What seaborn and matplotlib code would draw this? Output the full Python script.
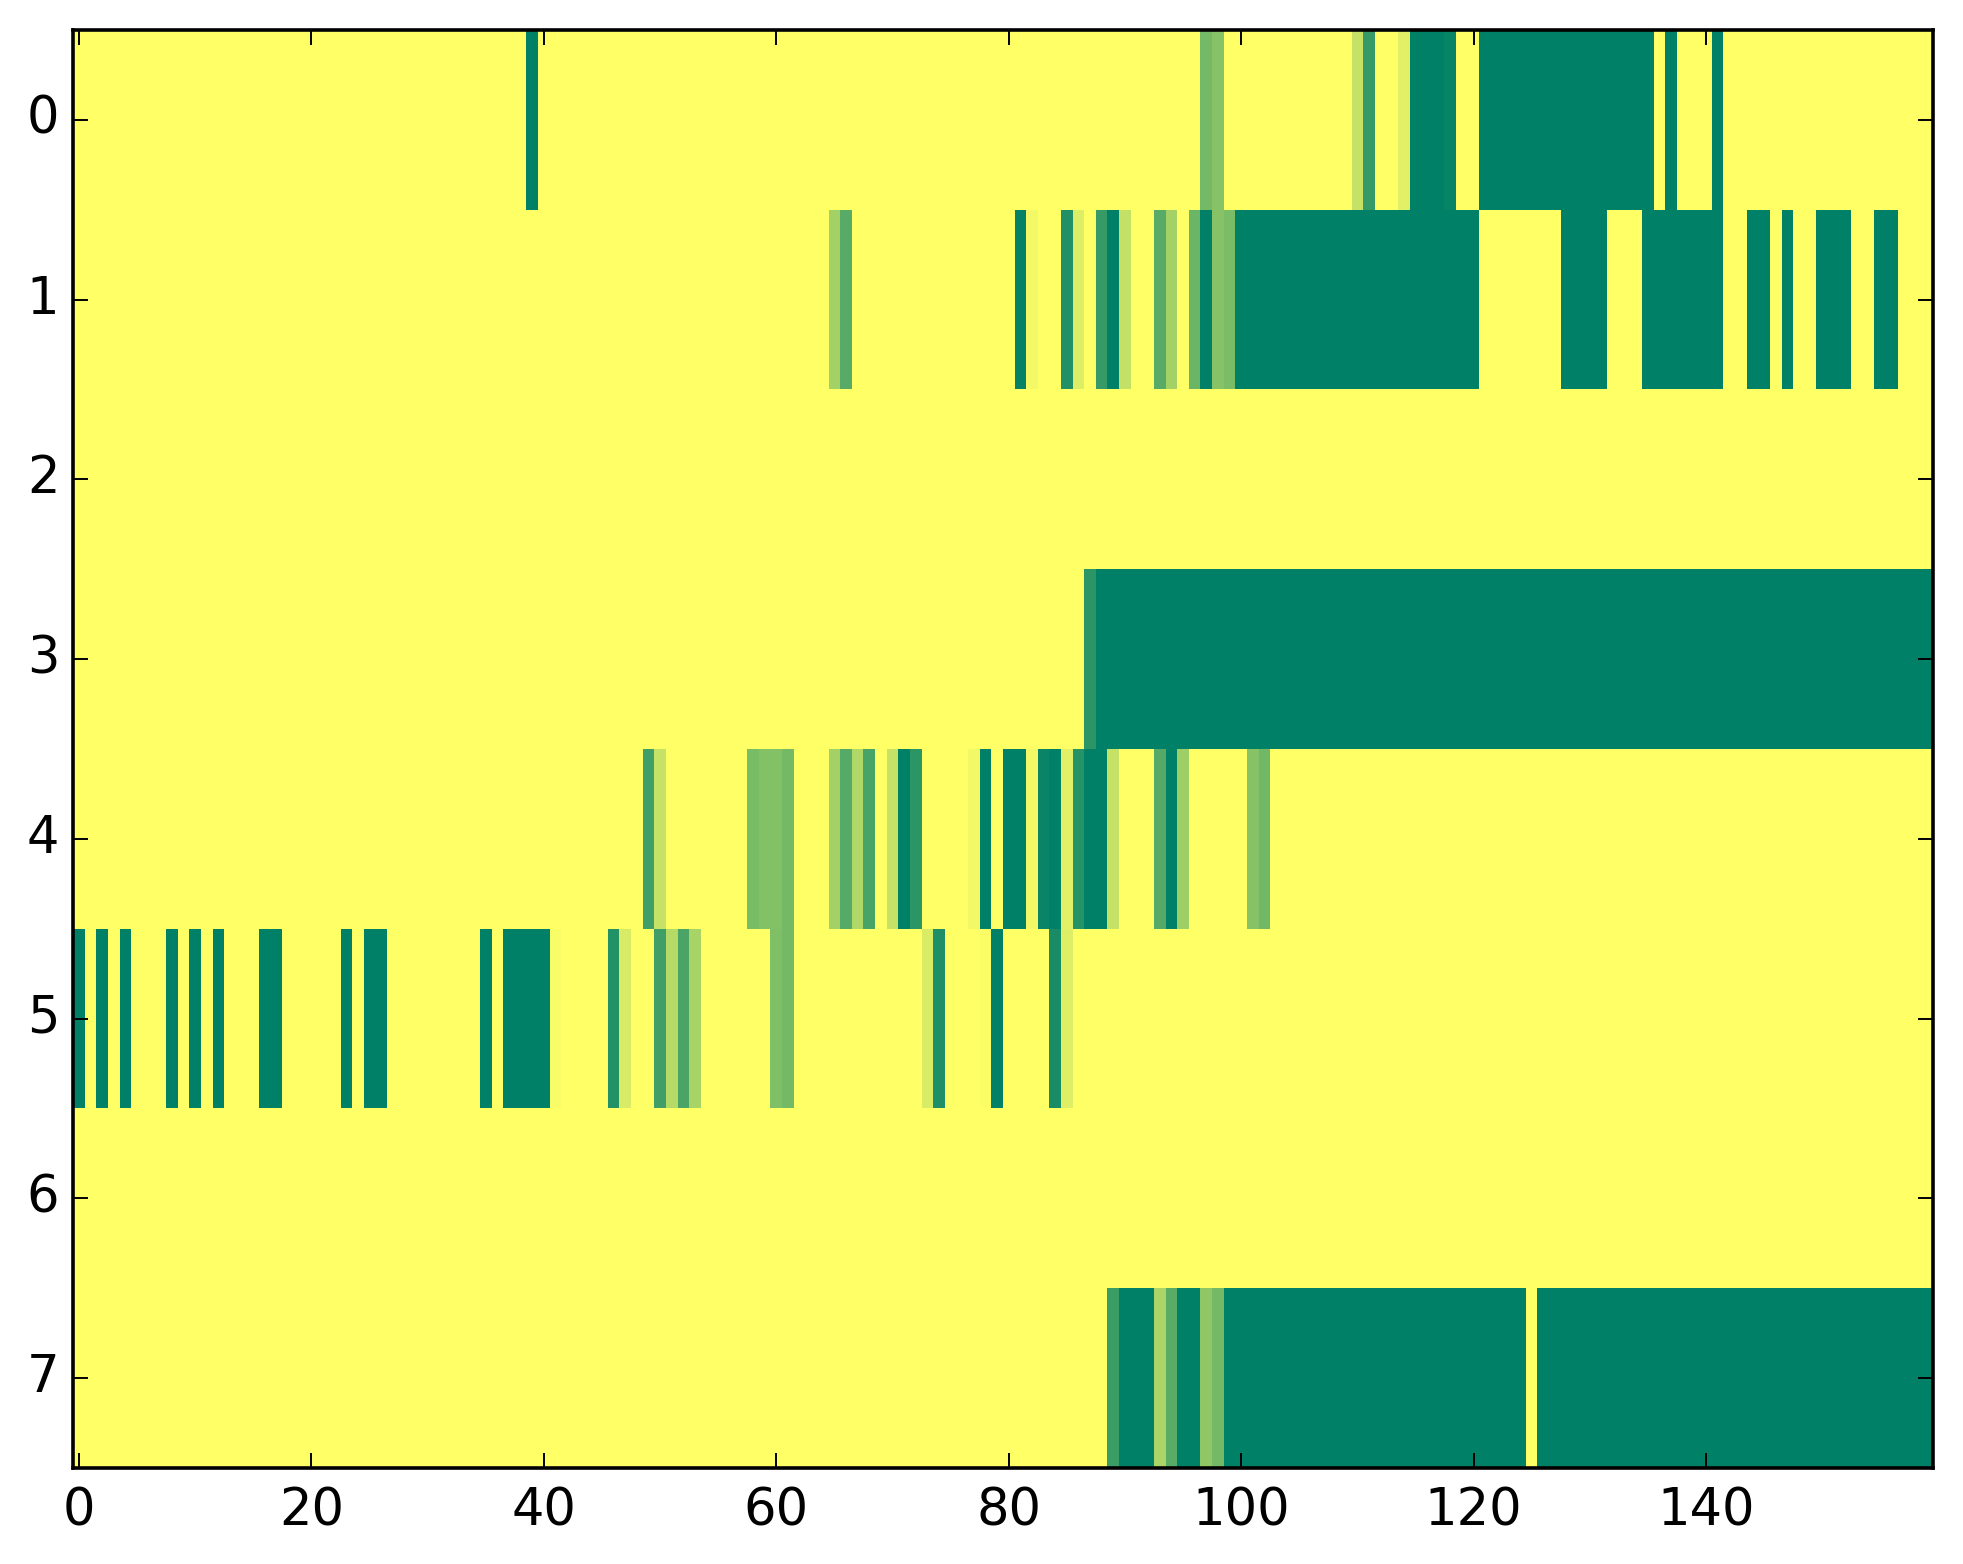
import numpy as np
import matplotlib
matplotlib.use("Agg")
import matplotlib.pyplot as plt
import seaborn as sns

# --- Data: 8 rows x 160 columns, value 0 (yellow) .. 1 (dark green) ---
# each row is a list of (first_col, last_col, value); every other cell is 0
N_ROWS = 8
N_COLS = 160

row_0 = [(39, 39, 1.0), (97, 97, 0.55), (98, 98, 0.47), (110, 110, 0.23), (111, 111, 0.79),
         (114, 114, 0.12), (115, 117, 1.0), (118, 118, 0.97), (121, 135, 1.0), (137, 137, 1.0),
         (141, 141, 1.0)]
row_1 = [(65, 65, 0.36), (66, 66, 0.66), (81, 81, 0.98), (82, 82, 0.05), (85, 85, 0.87),
         (86, 86, 0.14), (88, 88, 0.79), (89, 89, 1.0), (90, 90, 0.24), (93, 93, 0.66),
         (94, 94, 0.36), (96, 96, 0.58), (97, 97, 1.0), (98, 98, 0.47), (99, 99, 0.52),
         (100, 120, 1.0), (128, 131, 1.0), (135, 141, 1.0), (144, 145, 1.0), (147, 147, 1.0),
         (150, 152, 1.0), (155, 156, 1.0)]
row_2 = []
row_3 = [(87, 87, 0.83), (88, 159, 1.0)]
row_4 = [(49, 49, 0.75), (50, 50, 0.23), (58, 58, 0.53), (59, 60, 0.49), (61, 61, 0.55),
         (65, 65, 0.36), (66, 66, 0.67), (67, 67, 0.31), (68, 68, 0.72), (70, 70, 0.23),
         (71, 71, 1.0), (72, 72, 0.83), (77, 77, 0.05), (78, 78, 1.0), (80, 81, 1.0),
         (82, 82, 0.05), (83, 83, 0.96), (84, 84, 1.0), (85, 85, 0.12), (86, 86, 0.85),
         (87, 88, 1.0), (89, 89, 0.23), (93, 93, 0.67), (94, 94, 1.0), (95, 95, 0.38),
         (101, 101, 0.47), (102, 102, 0.56)]
row_5 = [(0, 0, 1.0), (2, 2, 1.0), (4, 4, 1.0), (8, 8, 1.0), (10, 10, 1.0), (12, 12, 1.0),
         (16, 17, 1.0), (23, 23, 1.0), (25, 26, 1.0), (35, 35, 1.0), (37, 40, 1.0),
         (41, 41, 0.03), (46, 46, 0.86), (47, 47, 0.16), (50, 50, 0.75), (51, 51, 0.29),
         (52, 52, 0.71), (53, 53, 0.34), (60, 60, 0.50), (61, 61, 0.55), (73, 73, 0.15),
         (74, 74, 0.88), (78, 78, 0.02), (79, 79, 1.0), (84, 84, 0.90), (85, 85, 0.13)]
row_6 = []
row_7 = [(89, 89, 0.77), (90, 92, 1.0), (93, 93, 0.33), (94, 94, 0.65), (95, 96, 1.0),
         (97, 97, 0.44), (98, 98, 0.55), (99, 124, 1.0), (126, 159, 1.0)]

ROWS = [row_0, row_1, row_2, row_3, row_4, row_5, row_6, row_7]
X_TICKS = [0, 20, 40, 60, 80, 100, 120, 140]
Y_TICKS = [0, 1, 2, 3, 4, 5, 6, 7]

# build the matrix from the segments
grid = np.zeros((N_ROWS, N_COLS))
for r, segs in enumerate(ROWS):
    for first, last, val in segs:
        grid[r, first:last + 1] = val

sns.set_style("ticks")
plt.rcParams['font.family'] = ['DejaVu Sans']

fig = plt.figure(figsize=(19.63, 15.64), dpi=100)
ax = fig.add_axes([0.0373, 0.0614, 0.9472, 0.9195])

sns.heatmap(grid, cmap='summer_r', vmin=0, vmax=1, cbar=False, ax=ax)

# imshow-like ticks: cell centres, numbered from 0
ax.set_xticks(np.array(X_TICKS) + 0.5)
ax.set_xticklabels([str(t) for t in X_TICKS], rotation=0)
ax.set_yticks(np.array(Y_TICKS) + 0.5)
ax.set_yticklabels([str(t) for t in Y_TICKS], rotation=0, va='center')

# classic look: full black frame, ticks inside on every side, drawn over the cells
ax.set_axisbelow(False)
for s in ax.spines.values():
    s.set_visible(True)
    s.set_color('black')
    s.set_linewidth(2.6)
    s.set_zorder(5)
ax.tick_params(which='major', direction='in', left=True, bottom=True, top=True, right=True,
               length=10.8, width=1.4, labelsize=36.8, pad=13, colors='black')
ax.tick_params(axis='y', pad=10)

plt.savefig('out.png', dpi=100)
plt.close()
